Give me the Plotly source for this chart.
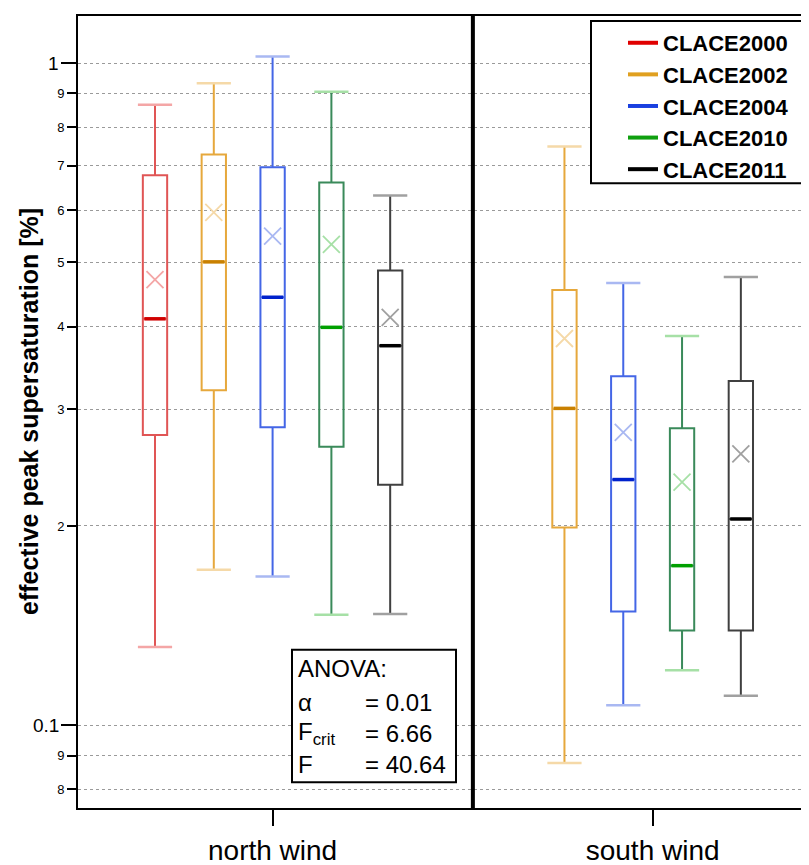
import math
import plotly.graph_objects as go

# ---------------- data ----------------
groups = ["north wind", "south wind"]
series = ["CLACE2000", "CLACE2002", "CLACE2004", "CLACE2010", "CLACE2011"]

# per series: [north, south]  (None = no data)
q1 = {
    "CLACE2000": [0.2745, None],
    "CLACE2002": [0.3207, 0.1989],
    "CLACE2004": [0.2818, 0.1485],
    "CLACE2010": [0.2635, 0.1390],
    "CLACE2011": [0.2308, 0.1390],
}
median = {
    "CLACE2000": [0.411, None],
    "CLACE2002": [0.501, 0.301],
    "CLACE2004": [0.443, 0.235],
    "CLACE2010": [0.399, 0.1742],
    "CLACE2011": [0.3743, 0.2049],
}
q3 = {
    "CLACE2000": [0.677, None],
    "CLACE2002": [0.728, 0.4544],
    "CLACE2004": [0.696, 0.3365],
    "CLACE2010": [0.660, 0.2808],
    "CLACE2011": [0.486, 0.3311],
}
lower = {
    "CLACE2000": [0.1313, None],
    "CLACE2002": [0.1718, 0.0877],
    "CLACE2004": [0.1677, 0.1072],
    "CLACE2010": [0.1468, 0.1211],
    "CLACE2011": [0.1473, 0.1108],
}
upper = {
    "CLACE2000": [0.865, None],
    "CLACE2002": [0.932, 0.748],
    "CLACE2004": [1.023, 0.4655],
    "CLACE2010": [0.905, 0.387],
    "CLACE2011": [0.631, 0.4752],
}
mean = {
    "CLACE2000": [0.471, None],
    "CLACE2002": [0.595, 0.3838],
    "CLACE2004": [0.548, 0.277],
    "CLACE2010": [0.5326, 0.2329],
    "CLACE2011": [0.413, 0.2569],
}

# small in-decade tick labels
ytick_vals = [0.08, 0.09, 0.2, 0.3, 0.4, 0.5, 0.6, 0.7, 0.8, 0.9]
ytick_text = ["8", "9", "2", "3", "4", "5", "6", "7", "8", "9"]
# decade ticks (long tick marks, larger labels)
decade_vals = [0.1, 1.0]
decade_text = ["0.1", "1"]

anova_title = "ANOVA:"
anova_labels = ["α", "F<sub>crit</sub>", "F"]
anova_values = ["= 0.01", "= 6.66", "= 40.64"]

# ---------------- styles ----------------
box_col = {"CLACE2000": "#e05555", "CLACE2002": "#e6a83c", "CLACE2004": "#4466e6",
           "CLACE2010": "#3a8a5a", "CLACE2011": "#404040"}
med_col = {"CLACE2000": "#d00000", "CLACE2002": "#c98000", "CLACE2004": "#0022cc",
           "CLACE2010": "#00a000", "CLACE2011": "#000000"}
light_col = {"CLACE2000": "#f4a6a6", "CLACE2002": "#f5d9a8", "CLACE2004": "#a9b8f2",
             "CLACE2010": "#a6e0a6", "CLACE2011": "#a0a0a0"}
leg_col = {"CLACE2000": "#e00000", "CLACE2002": "#e0a020", "CLACE2004": "#1a40e0",
           "CLACE2010": "#10a010", "CLACE2011": "#000000"}

FONT = "Liberation Sans, Arial, sans-serif"
GRID = "#9a9a9a"
W, H = 802, 858
ML, MR, MT, MB = 70, 0, 8, 54
PW, PH = W - ML - MR, H - MT - MB
WIN_L, WIN_T = 77, 15   # plot-area corner as seen in the page

spacing = 0.1547
box_w = 0.064
cap_w = 0.09


def px_x(p):
    return (p - WIN_L) / PW


def px_y(p):
    return 1 - (p - WIN_T) / PH


fig = go.Figure()

# positions: boxes of each group are centred on the group tick
positions = {}
for gi, g in enumerate(groups):
    present = [s for s in series if median[s][gi] is not None]
    n = len(present)
    for k, s in enumerate(present):
        positions[(s, gi)] = gi + (k - (n - 1) / 2) * spacing

for s in series:
    xs, a, b, c, lo, hi, mn = [], [], [], [], [], [], []
    for gi in range(len(groups)):
        if median[s][gi] is None:
            continue
        xs.append(positions[(s, gi)])
        a.append(q1[s][gi]); b.append(median[s][gi]); c.append(q3[s][gi])
        lo.append(lower[s][gi]); hi.append(upper[s][gi]); mn.append(mean[s][gi])
    fig.add_trace(go.Box(
        x=xs, q1=a, median=b, q3=c, lowerfence=lo, upperfence=hi,
        width=box_w, whiskerwidth=0, line=dict(color=box_col[s], width=2),
        fillcolor="rgba(0,0,0,0)", showlegend=False, hoverinfo="skip",
    ))
    # whisker caps
    cx, cy = [], []
    for x, l, h in zip(xs, lo, hi):
        for v in (l, h):
            cx += [x - cap_w / 2, x + cap_w / 2, None]
            cy += [v, v, None]
    fig.add_trace(go.Scatter(x=cx, y=cy, mode="lines", line=dict(color=light_col[s], width=2.5),
                             showlegend=False, hoverinfo="skip"))
    # median
    mx, my = [], []
    for x, v in zip(xs, b):
        mx += [x - box_w / 2 + 0.004, x + box_w / 2 - 0.004, None]
        my += [v, v, None]
    fig.add_trace(go.Scatter(x=mx, y=my, mode="lines", line=dict(color=med_col[s], width=3.5),
                             showlegend=False, hoverinfo="skip"))
    # mean
    fig.add_trace(go.Scatter(x=xs, y=mn, mode="markers",
                             marker=dict(symbol="x-thin", size=17,
                                         line=dict(color=light_col[s], width=1.8)),
                             showlegend=False, hoverinfo="skip"))
    # legend entry
    fig.add_trace(go.Scatter(x=[None], y=[None], mode="lines", name=s,
                             line=dict(color=leg_col[s], width=4)))

shapes = [
    dict(type="line", xref="x", yref="paper", x0=0.527, x1=0.527, y0=0, y1=1,
         line=dict(color="black", width=4)),
    # legend frame
    dict(type="rect", xref="paper", yref="paper",
         x0=px_x(590), x1=px_x(830), y0=px_y(183), y1=px_y(20),
         line=dict(color="black", width=2), fillcolor="white", layer="above"),
    # ANOVA box
    dict(type="rect", xref="paper", yref="paper",
         x0=px_x(291), x1=px_x(455), y0=px_y(785), y1=px_y(652),
         line=dict(color="black", width=2), fillcolor="white", layer="above"),
]

annotations = []
for v, t in zip(decade_vals, decade_text):
    annotations.append(dict(text=t, xref="paper", yref="y", x=-17 / PW, y=math.log10(v),
                            xanchor="right", yanchor="middle", showarrow=False,
                            font=dict(family=FONT, size=19, color="black")))

annotations += [
    dict(text="<b>effective peak supersaturation [%]</b>", xref="paper", yref="paper",
         x=px_x(28), y=0.5, textangle=-90, showarrow=False,
         font=dict(family=FONT, size=25, color="black"), xanchor="center", yanchor="middle"),
    dict(text=anova_title, xref="paper", yref="paper", x=px_x(295), y=px_y(671),
         showarrow=False, xanchor="left", yanchor="middle",
         font=dict(family=FONT, size=24, color="black")),
]
for i, (lab, val) in enumerate(zip(anova_labels, anova_values)):
    yy = px_y(705 + i * 31)
    annotations.append(dict(text=lab, xref="paper", yref="paper", x=px_x(295), y=yy,
                            showarrow=False, xanchor="left", yanchor="middle",
                            font=dict(family=FONT, size=24, color="black")))
    annotations.append(dict(text=val, xref="paper", yref="paper", x=px_x(362), y=yy,
                            showarrow=False, xanchor="left", yanchor="middle",
                            font=dict(family=FONT, size=24, color="black")))

fig.update_layout(
    width=W, height=H,
    margin=dict(l=ML, r=MR, t=MT, b=MB),
    paper_bgcolor="white", plot_bgcolor="white",
    font=dict(family=FONT, color="black"),
    showlegend=True,
    legend=dict(x=px_x(622), y=px_y(21), xanchor="left", yanchor="top",
                bgcolor="rgba(0,0,0,0)", borderwidth=0,
                font=dict(family=FONT, size=22, color="black", weight="bold"),
                itemwidth=30, tracegroupgap=0),
    xaxis=dict(range=[-0.512, 1.414], tickvals=list(range(len(groups))), ticktext=groups,
               ticks="outside", ticklen=16, tickwidth=2, tickcolor="black",
               showline=True, linewidth=2, linecolor="black", mirror=True,
               showgrid=False, zeroline=False,
               tickfont=dict(family=FONT, size=28, color="black")),
    yaxis=dict(type="log", range=[math.log10(0.075), math.log10(1.178)],
               tickvals=ytick_vals, ticktext=ytick_text,
               ticks="outside", ticklen=9, tickwidth=2, tickcolor="black",
               showline=True, linewidth=2, linecolor="black", mirror=False,
               showgrid=True, gridcolor=GRID, gridwidth=1, griddash="dot",
               zeroline=False, tickfont=dict(family=FONT, size=13, color="black"),
               minor=dict(tickmode="array", tickvals=decade_vals, ticks="outside",
                          ticklen=15, tickwidth=2, tickcolor="black",
                          showgrid=True, gridcolor=GRID, gridwidth=1, griddash="dot")),
    shapes=shapes,
    annotations=annotations,
)

fig.write_html("out.html")
